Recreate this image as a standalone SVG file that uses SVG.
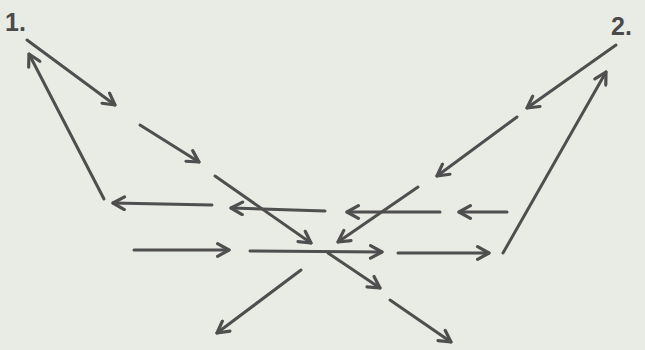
<svg xmlns="http://www.w3.org/2000/svg" width="645" height="350" viewBox="0 0 645 350">
<defs>
<marker id="ah" viewBox="0 0 14 14" refX="12" refY="7" markerWidth="16" markerHeight="16" markerUnits="userSpaceOnUse" orient="auto">
<path d="M2,1.5 L12,7 L2,12.5" fill="none" stroke="#4f4f4f" stroke-width="2.8" stroke-linecap="round" stroke-linejoin="round"/>
</marker>
<style>
.a{stroke:#4f4f4f;stroke-width:3;fill:none;stroke-linecap:round;marker-end:url(#ah)}
.t{font-family:"Liberation Sans",Arial,sans-serif;font-weight:bold;font-size:25px;fill:#4a4a4a}
</style>
</defs>
<rect width="645" height="350" fill="#e9ebe5"/>
<g id="label1"><text class="t" x="5" y="31">1.</text></g>
<g id="label2"><text class="t" x="611" y="35">2.</text></g>
<g id="connectors">
<path class="a" d="M27,40 L115,105"/>
<path class="a" d="M140,125 L199,162"/>
<path class="a" d="M215,176 L311,243"/>
<path class="a" d="M328,253 L380,288"/>
<path class="a" d="M390,300 L451,342"/>
<path class="a" d="M104,199 L29,54"/>
<path class="a" d="M212,205 L113,203"/>
<path class="a" d="M325,211 L231,208"/>
<path class="a" d="M440,212 L347,212"/>
<path class="a" d="M507,212 L459,212"/>
<path class="a" d="M134,250 L229,250"/>
<path class="a" d="M250,251 L382,252"/>
<path class="a" d="M398,253 L489,253"/>
<path class="a" d="M503,253 L606,72"/>
<path class="a" d="M616,45 L527,108"/>
<path class="a" d="M517,117 L437,176"/>
<path class="a" d="M418,187 L338,242"/>
<path class="a" d="M301,270 L217,333"/>
</g>
</svg>
